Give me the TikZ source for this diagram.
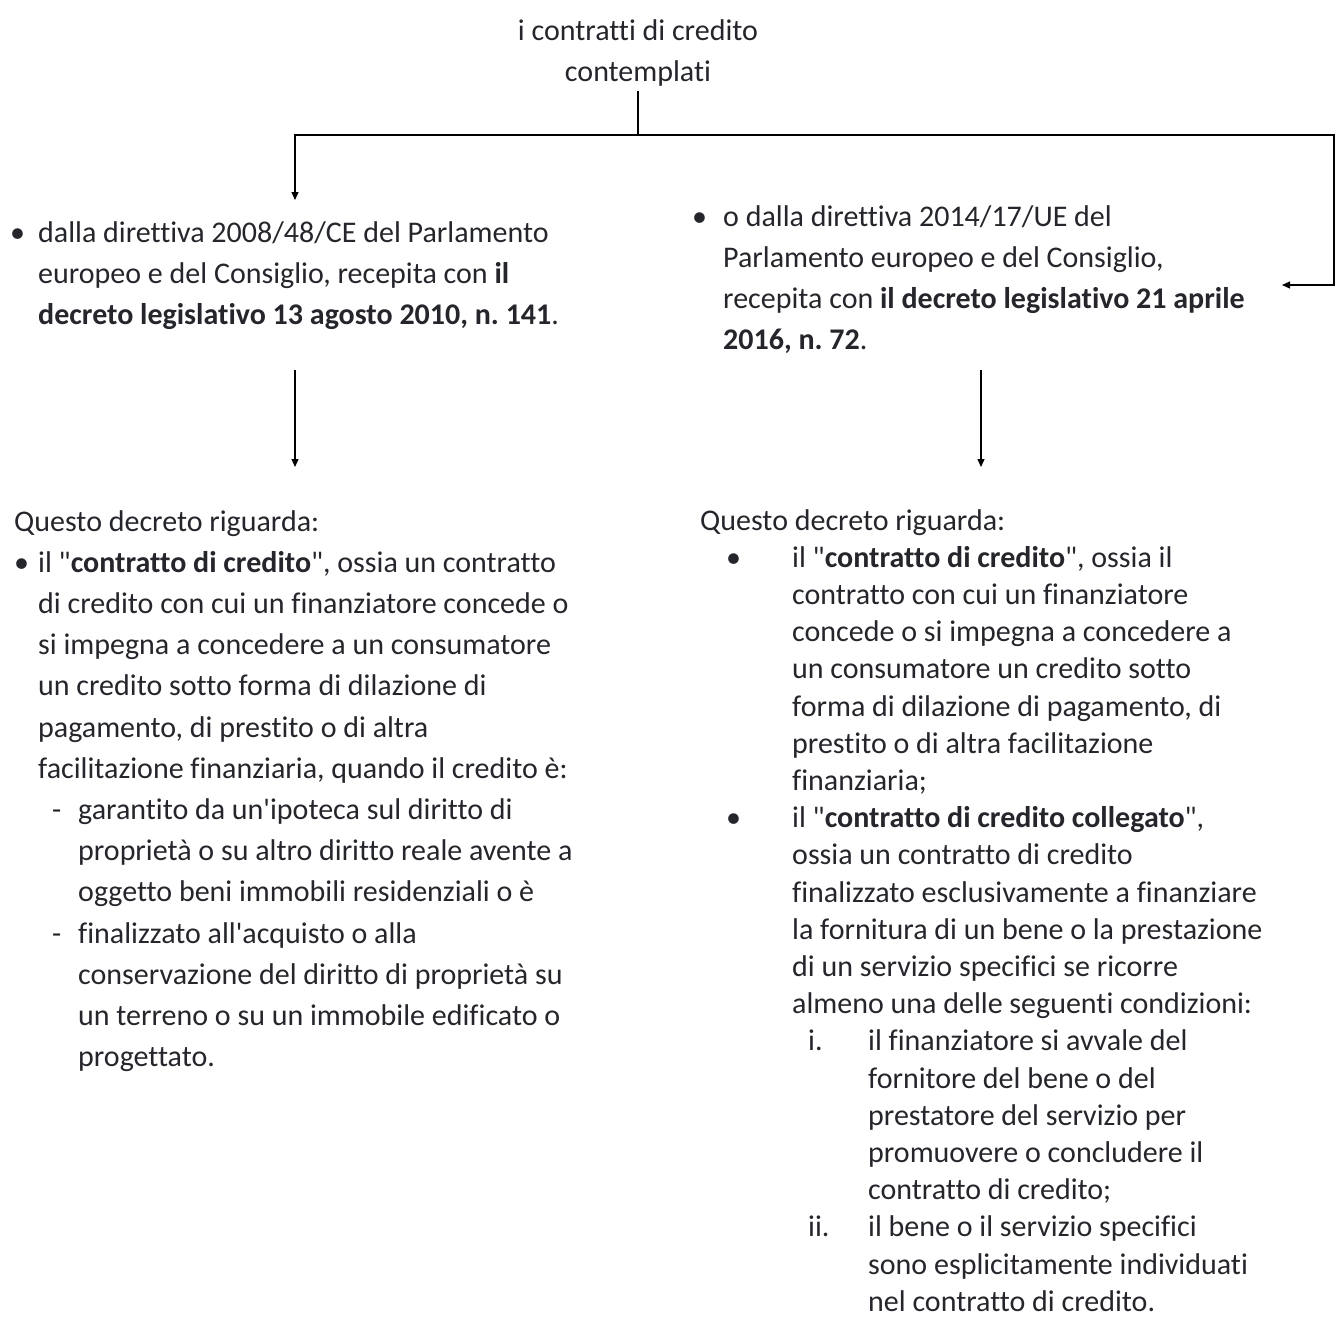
\documentclass[tikz,border=0pt]{standalone}
\usepackage{fontspec}
\setmainfont{Carlito}[Ligatures={TeX,NoCommon}]
\usetikzlibrary{arrows.meta}
\definecolor{ink}{RGB}{37,38,43}
\newcommand{\lmark}[2]{\makebox[#1][l]{#2}}
\newcommand{\lskip}[1]{\hspace*{#1}}
\newcommand{\q}{\textquotedbl}

\begin{document}
\begin{tikzpicture}[x=1pt, y=-1pt, >={Triangle[length=8pt,width=7pt]},
    txt/.style={anchor=north west, inner sep=0pt, align=left, text=ink,
      font=\fontsize{30}{41.2}\selectfont, execute at begin node=\strut},
    tight/.style={txt, font=\fontsize{30}{37.2}\selectfont},
    link/.style={line width=1.2pt}]
    \useasboundingbox (0,0) rectangle (1336,1318);

    % titolo
    \node[txt, anchor=north, align=center] (title) at (638,19) {i contratti di credito\\contemplati};

    % le due direttive
    \node[txt] (dir1) at (10,221) {\lmark{28pt}{\textbullet}dalla direttiva 2008/48/CE del Parlamento\\
        \lskip{28pt}europeo e del Consiglio, recepita con \textbf{il}\\
        \lskip{28pt}\textbf{decreto legislativo 13 agosto 2010, n.~141}.};
    \node[txt] (dir2) at (692,205) {\lmark{31pt}{\textbullet}o dalla direttiva 2014/17/UE del\\
        \lskip{31pt}Parlamento europeo e del Consiglio,\\
        \lskip{31pt}recepita con \textbf{il decreto legislativo 21 aprile}\\
        \lskip{31pt}\textbf{2016, n.~72}.};

    % i due decreti
    \node[txt] (dec1) at (14,510) {Questo decreto riguarda:\\
        \lmark{24pt}{\textbullet}il \q\textbf{contratto di credito}\q, ossia un contratto\\
        \lskip{24pt}di credito con cui un finanziatore concede o\\
        \lskip{24pt}si impegna a concedere a un consumatore\\
        \lskip{24pt}un credito sotto forma di dilazione di\\
        \lskip{24pt}pagamento, di prestito o di altra\\
        \lskip{24pt}facilitazione finanziaria, quando il credito è:\\
        \lmark{64pt}{\hspace*{38pt}-}garantito da un\textquotesingle ipoteca sul diritto di\\
        \lskip{64pt}proprietà o su altro diritto reale avente a\\
        \lskip{64pt}oggetto beni immobili residenziali o è\\
        \lmark{64pt}{\hspace*{38pt}-}finalizzato all\textquotesingle acquisto o alla\\
        \lskip{64pt}conservazione del diritto di proprietà su\\
        \lskip{64pt}un terreno o su un immobile edificato o\\
        \lskip{64pt}progettato.};
    \node[tight] (dec2) at (700,509) {Questo decreto riguarda:\\
        \lmark{92pt}{\hspace*{26pt}\textbullet}il \q\textbf{contratto di credito}\q, ossia il\\
        \lskip{92pt}contratto con cui un finanziatore\\
        \lskip{92pt}concede o si impegna a concedere a\\
        \lskip{92pt}un consumatore un credito sotto\\
        \lskip{92pt}forma di dilazione di pagamento, di\\
        \lskip{92pt}prestito o di altra facilitazione\\
        \lskip{92pt}finanziaria;\\
        \lmark{92pt}{\hspace*{26pt}\textbullet}il \q\textbf{contratto di credito collegato}\q,\\
        \lskip{92pt}ossia un contratto di credito\\
        \lskip{92pt}finalizzato esclusivamente a finanziare\\
        \lskip{92pt}la fornitura di un bene o la prestazione\\
        \lskip{92pt}di un servizio specifici se ricorre\\
        \lskip{92pt}almeno una delle seguenti condizioni:\\
        \lmark{168pt}{\hspace*{108pt}i.}il finanziatore si avvale del\\
        \lskip{168pt}fornitore del bene o del\\
        \lskip{168pt}prestatore del servizio per\\
        \lskip{168pt}promuovere o concludere il\\
        \lskip{168pt}contratto di credito;\\
        \lmark{168pt}{\hspace*{108pt}ii.}il bene o il servizio specifici\\
        \lskip{168pt}sono esplicitamente individuati\\
        \lskip{168pt}nel contratto di credito.};

    % frecce
    \coordinate (fork) at (638,135);
    \coordinate (tipL) at (295,200);
    \coordinate (bend) at (1334,285);
    \coordinate (tipR) at (1282,285);
    \coordinate (fromL) at (295,370);
    \coordinate (toL) at (295,467);
    \coordinate (fromR) at (981,370);
    \coordinate (toR) at (981,467);
    \draw[link, shorten <=-3pt] (title.south) -- (fork);
    \draw[link, ->] (fork) -| (tipL);
    \draw[link, ->] (fork) -| (bend) -- (tipR);
    \draw[link, ->] (fromL) -- (toL);
    \draw[link, ->] (fromR) -- (toR);
\end{tikzpicture}
\end{document}
